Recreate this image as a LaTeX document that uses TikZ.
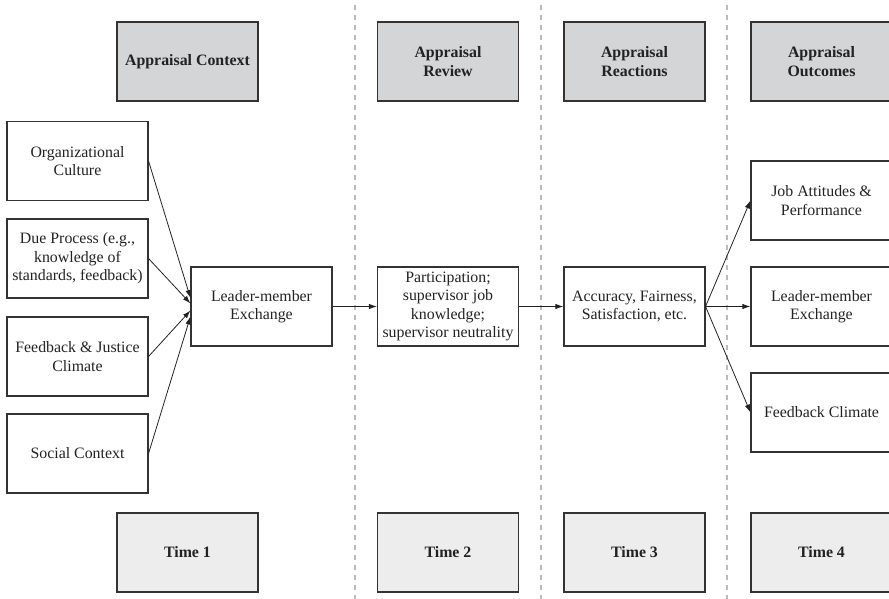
\documentclass[tikz,border=0pt]{standalone}
\usepackage{fontspec}
\setmainfont{Liberation Serif}
\usetikzlibrary{arrows.meta,calc}
\definecolor{hdrgray}{HTML}{D4D5D7}
\definecolor{timegray}{HTML}{EDEDED}
\definecolor{boxline}{HTML}{333333}
\definecolor{dashgray}{HTML}{BBBBBB}
\definecolor{txt}{HTML}{222222}
\tikzset{
  box/.style={draw=boxline, line width=0.8pt, rectangle, minimum width=105.75pt, minimum height=59.25pt,
    align=center, inner sep=2pt, text=txt, font=\fontsize{11.9}{13.9}\selectfont},
  hdr/.style={box, fill=hdrgray, font=\fontsize{11.9}{13.9}\selectfont\bfseries},
  timebox/.style={box, fill=timegray, font=\fontsize{11.9}{13.9}\selectfont\bfseries},
  sep/.style={draw=dashgray, line width=0.8pt, dash pattern=on 4pt off 3.5pt},
  conn/.style={draw=txt, line width=0.6pt, -{Latex[length=6pt,width=4pt]}}
}
\begin{document}
\begin{tikzpicture}[x=0.75pt,y=-0.75pt]
\useasboundingbox (0,0) rectangle (889,599);
% column separators
\coordinate (s1t) at (355,5); \coordinate (s1b) at (355,599);
\coordinate (s2t) at (541,5); \coordinate (s2b) at (541,599);
\coordinate (s3t) at (727,5); \coordinate (s3b) at (727,599);
\draw[sep] (s1t) -- (s1b);
\draw[sep] (s2t) -- (s2b);
\draw[sep] (s3t) -- (s3b);
% headers
\node[hdr] (hctx) at (187.5,61.5) {Appraisal Context};
\node[hdr] (hrev) at (448,61.5) {Appraisal\\Review};
\node[hdr] (hrea) at (634.5,61.5) {Appraisal\\Reactions};
\node[hdr] (hout) at (821.5,61.5) {Appraisal\\Outcomes};
% time boxes
\node[timebox] (t1) at (187.5,552.5) {Time 1};
\node[timebox] (t2) at (448,552.5) {Time 2};
\node[timebox] (t3) at (634.5,552.5) {Time 3};
\node[timebox] (t4) at (821.5,552.5) {Time 4};
% left column
\node[box] (org) at (77.5,161) {Organizational\\Culture};
\node[box] (due) at (77.5,258.5) {Due Process (e.g.,\\knowledge of\\standards, feedback)};
\node[box] (fbj) at (77.5,356.5) {Feedback \& Justice\\Climate};
\node[box] (soc) at (77.5,453.5) {Social Context};
\node[box] (lmx) at (261.5,306.5) {Leader-member\\Exchange};
\node[box] (part) at (448,306.5) {Participation;\\supervisor job\\knowledge;\\supervisor neutrality};
\node[box] (acc) at (634.5,306.5) {Accuracy, Fairness,\\Satisfaction, etc.};
\node[box] (job) at (821.5,200.5) {Job Attitudes \&\\Performance};
\node[box] (lmx2) at (821.5,306.5) {Leader-member\\Exchange};
\node[box] (fbc) at (821.5,412.5) {Feedback Climate};
% connectors
\draw[conn] (org.east) -- ($(lmx.west)+(0,-8.5)$);
\draw[conn] (due.east) -- ($(lmx.west)+(0,-3)$);
\draw[conn] (fbj.east) -- ($(lmx.west)+(0,4)$);
\draw[conn] (soc.east) -- ($(lmx.west)+(0,10)$);
\draw[conn] (lmx.east) -- (part.west);
\draw[conn] (part.east) -- (acc.west);
\draw[conn] (acc.east) -- (job.west);
\draw[conn] (acc.east) -- (lmx2.west);
\draw[conn] (acc.east) -- (fbc.west);
\end{tikzpicture}
\end{document}
